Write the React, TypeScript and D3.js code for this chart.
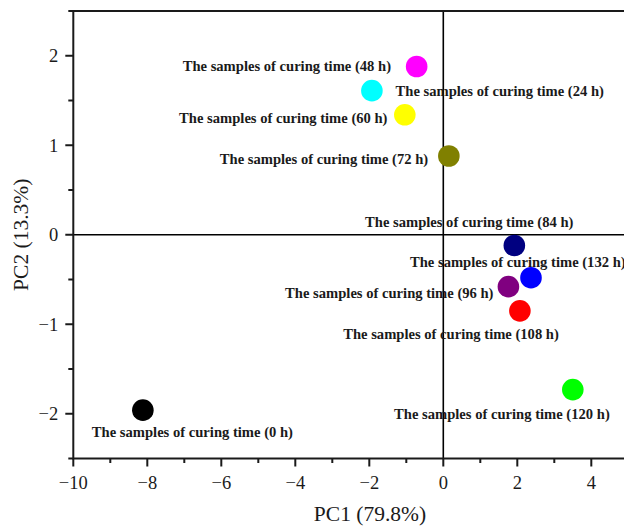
import { useEffect, useRef } from "react";
import * as d3 from "d3";

// sample names, PC scores and marker colours
const samples = ["0 h", "24 h", "48 h", "60 h", "72 h", "84 h", "96 h", "108 h", "120 h", "132 h"];
const pc1 = [-8.12, -1.93, -0.72, -1.04, 0.15, 1.92, 1.76, 2.07, 3.50, 2.37];
const pc2 = [-1.96, 1.61, 1.88, 1.34, 0.88, -0.12, -0.58, -0.85, -1.73, -0.48];
const colors = ["#000000", "#00ffff", "#ff00ff", "#ffff00", "#808000", "#000080", "#800080", "#ff0000", "#00ff00", "#0000ff"];

// label placement relative to each marker (px): start of text, vertical centre
const labelDx = [-51, 23.7, -234, -225.7, -229, -149.3, -223.3, -176.7, -178.7, -121];
const labelDy = [22, 0.7, -1, 3.3, 3, -23.3, 6, 23.3, 24.3, -15.4];

const xTicks = [-10, -8, -6, -4, -2, 0, 2, 4];
const xMinor = [-9, -7, -5, -3, -1, 1, 3];
const yTicks = [-2, -1, 0, 1, 2];
const yMinor = [-2.5, -1.5, -0.5, 0.5, 1.5, 2.5];

const W = 624;
const H = 526;
const margin = { left: 73.3, top: 11, right: 628.3, bottom: 458.5 };

export default function App() {
    const svgRef = useRef<SVGSVGElement | null>(null);

    useEffect(() => {
        const svg = d3.select(svgRef.current);
        svg.selectAll("*").remove();

        const x = d3.scaleLinear().domain([-10, 5]).range([margin.left, margin.right]);
        const y = d3.scaleLinear().domain([-2.5, 2.5]).range([margin.bottom, margin.top]);

        const serif = "'Liberation Serif', 'Times New Roman', serif";
        const fmt = d3.format("");

        // zero lines
        svg.append("line")
            .attr("x1", x(0)).attr("x2", x(0))
            .attr("y1", y(2.5)).attr("y2", y(-2.5))
            .attr("stroke", "#000").attr("stroke-width", 1.6);
        svg.append("line")
            .attr("x1", x(-10)).attr("x2", x(5))
            .attr("y1", y(0)).attr("y2", y(0))
            .attr("stroke", "#000").attr("stroke-width", 1.6);

        // frame
        svg.append("rect")
            .attr("x", margin.left).attr("y", margin.top)
            .attr("width", margin.right - margin.left)
            .attr("height", margin.bottom - margin.top)
            .attr("fill", "none")
            .attr("stroke", "#1a1a1a")
            .attr("stroke-width", 2);

        // x ticks
        const gx = svg.append("g");
        gx.selectAll("line.major").data(xTicks).join("line")
            .attr("x1", d => x(d)).attr("x2", d => x(d))
            .attr("y1", margin.bottom).attr("y2", margin.bottom + 8)
            .attr("stroke", "#1a1a1a").attr("stroke-width", 2);
        gx.selectAll("line.minor").data(xMinor).join("line")
            .attr("x1", d => x(d)).attr("x2", d => x(d))
            .attr("y1", margin.bottom).attr("y2", margin.bottom + 4.5)
            .attr("stroke", "#1a1a1a").attr("stroke-width", 2);
        gx.selectAll("text").data(xTicks).join("text")
            .attr("x", d => x(d))
            .attr("y", margin.bottom + 30)
            .attr("text-anchor", "middle")
            .attr("font-family", serif)
            .attr("font-size", 18.5)
            .attr("fill", "#1a1a1a")
            .text(d => fmt(d));

        // y ticks
        const gy = svg.append("g");
        gy.selectAll("line.major").data(yTicks).join("line")
            .attr("x1", margin.left - 8).attr("x2", margin.left)
            .attr("y1", d => y(d)).attr("y2", d => y(d))
            .attr("stroke", "#1a1a1a").attr("stroke-width", 2);
        gy.selectAll("line.minor").data(yMinor).join("line")
            .attr("x1", margin.left - 5).attr("x2", margin.left)
            .attr("y1", d => y(d)).attr("y2", d => y(d))
            .attr("stroke", "#1a1a1a").attr("stroke-width", 2);
        gy.selectAll("text").data(yTicks).join("text")
            .attr("x", margin.left - 15)
            .attr("y", d => y(d))
            .attr("dy", "0.35em")
            .attr("text-anchor", "end")
            .attr("font-family", serif)
            .attr("font-size", 18.5)
            .attr("fill", "#1a1a1a")
            .text(d => fmt(d));

        // axis titles
        svg.append("text")
            .attr("x", 370).attr("y", 521)
            .attr("text-anchor", "middle")
            .attr("font-family", serif)
            .attr("font-size", 21.5)
            .attr("fill", "#1a1a1a")
            .text("PC1 (79.8%)");
        svg.append("text")
            .attr("transform", `translate(28, ${y(0)}) rotate(-90)`)
            .attr("text-anchor", "middle")
            .attr("font-family", serif)
            .attr("font-size", 21.5)
            .attr("fill", "#1a1a1a")
            .text("PC2 (13.3%)");

        // points
        const idx = d3.range(samples.length);
        svg.append("g").selectAll("circle").data(idx).join("circle")
            .attr("cx", i => x(pc1[i]))
            .attr("cy", i => y(pc2[i]))
            .attr("r", 10.8)
            .attr("fill", i => colors[i]);

        // labels
        svg.append("g").selectAll("text").data(idx).join("text")
            .attr("x", i => x(pc1[i]) + labelDx[i])
            .attr("y", i => y(pc2[i]) + labelDy[i])
            .attr("dy", "0.35em")
            .attr("font-family", serif)
            .attr("font-weight", "bold")
            .attr("font-size", 14.6)
            .attr("fill", "#1a1a1a")
            .text(i => `The samples of curing time (${samples[i]})`);
    }, []);

    return (
        <svg
            ref={svgRef}
            width={W}
            height={H}
            style={{ position: "absolute", left: 0, top: 0, background: "#fff" }}
        />
    );
}
